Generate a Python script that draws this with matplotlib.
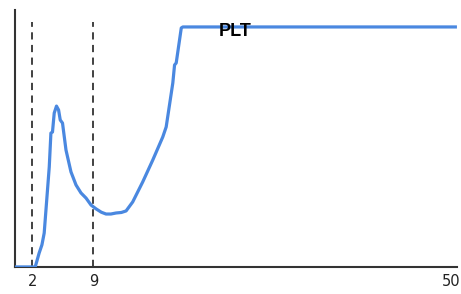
import matplotlib
matplotlib.use("Agg")
import matplotlib.pyplot as plt

# PLT curve (x in axis units, y in % of plot height)
x = [0, 2.32, 2.77, 3.09, 3.35, 3.93, 4.12, 4.30, 4.50, 4.76, 5.00, 5.19, 5.45,
     5.85, 6.42, 7.00, 7.57, 8.15, 8.72, 9.30, 9.90, 10.44, 11.0, 11.59, 12.2,
     12.74, 13.50, 14.65, 15.80, 16.95, 17.34, 18.10, 18.30, 18.49, 19.07,
     19.25, 50.5]
y = [0, 0, 5.4, 8.6, 13.2, 38.9, 52.1, 52.5, 59.9, 62.6, 61.1, 57.2, 56.0,
     45.5, 37.0, 31.9, 28.8, 26.8, 24.1, 22.6, 21.3, 20.6, 20.6, 21.0, 21.2,
     21.8, 25.3, 33.1, 41.6, 50.6, 54.5, 71.6, 78.6, 79.4, 93.0,
     93.4, 93.4]

markers = [2, 9]
tick_pos = [2, 9, 50]
tick_labels = ["2", "9", "50"]

fig = plt.figure(figsize=(4.61, 2.94), dpi=100)
ax = fig.add_axes([0.0325, 0.092, 0.959, 0.874])

ax.plot(x, y, color="#4a88e0", lw=2.3, solid_joinstyle="round", zorder=3)
for m in markers:
    ax.plot([m, m], [0, 95.3], color="#333333", lw=1.3, ls=(0, (4, 3)), zorder=2)

ax.text(25.3, 91.8, "PLT", fontsize=13, fontweight="bold",
        family="Liberation Sans", ha="center", va="center", zorder=4)

ax.set_xlim(0, 50.7)
ax.set_ylim(0, 100)
ax.set_xticks(tick_pos)
ax.set_xticklabels(tick_labels, fontsize=10.5, color="#222222")
ax.tick_params(axis="x", length=0, pad=5)
ax.set_yticks([])
for s in ["top", "right"]:
    ax.spines[s].set_visible(False)
for s in ["left", "bottom"]:
    ax.spines[s].set_color("#333333")
    ax.spines[s].set_linewidth(1.5)

fig.savefig("out.png", dpi=100)
